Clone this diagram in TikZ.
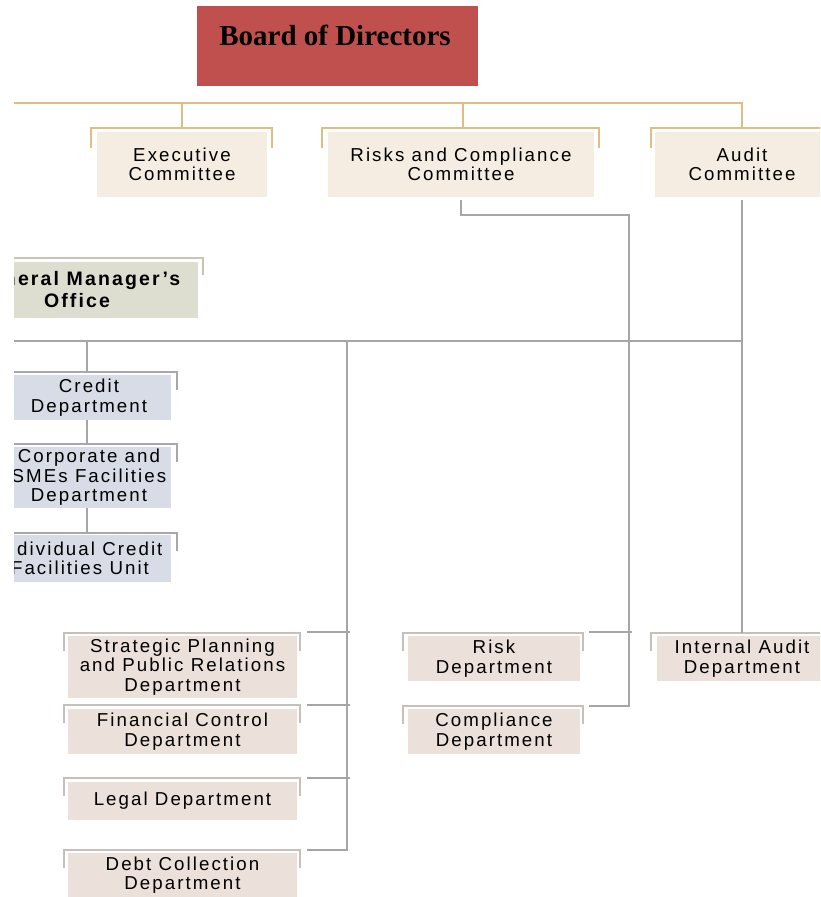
\documentclass[tikz,border=0pt]{standalone}
\usepackage{fontspec}
\setmainfont{Liberation Sans}
\newfontfamily\deptfont[LetterSpace=11]{Liberation Sans}
\newfontfamily\boardfont{Liberation Serif}
\usetikzlibrary{calc}
\definecolor{boardred}{HTML}{C0504D}
\definecolor{goldline}{HTML}{E0BE82}
\definecolor{commfill}{HTML}{F5EDE1}
\definecolor{gmfill}{HTML}{DDDED0}
\definecolor{gmbrk}{HTML}{C9C4B6}
\definecolor{credfill}{HTML}{D8DCE6}
\definecolor{credbrk}{HTML}{A8A8A8}
\definecolor{deptfill}{HTML}{EBE0DA}
\definecolor{deptbrk}{HTML}{C8C0B8}
\definecolor{connc}{HTML}{A6A6A6}
\tikzset{
  box/.style={inner sep=0pt, align=center, text=black,
    font=\deptfont\fontsize{18.7}{19.5}\selectfont},
  cbox/.style={box, fill=commfill},
  gbox/.style={box, fill=gmfill, font=\deptfont\bfseries\fontsize{19.5}{22}\selectfont},
  crbox/.style={box, fill=credfill},
  dbox/.style={box, fill=deptfill},
  goldln/.style={draw=goldline, line width=2pt},
  conn/.style={draw=connc, line width=2pt},
  brkgold/.style={draw=goldline, line width=2pt},
  brkgm/.style={draw=gmbrk, line width=2pt},
  brkcred/.style={draw=credbrk, line width=2pt},
  brkdept/.style={draw=deptbrk, line width=2pt},
}
\newcommand\brk[5]{\draw[#1] (#2,{#4+#5}) -- (#2,#4) -- (#3,#4) -- (#3,{#4+#5});}
\begin{document}
\begin{tikzpicture}[x=1pt,y=-1pt]
\useasboundingbox (0,0) rectangle (820,897);
\fill[white] (0,0) rectangle (820,897);
\begin{scope}
\clip (14,0) rectangle (820,897);

% Board
\node[fill=boardred, minimum width=281, minimum height=80, inner sep=0pt] (board) at (337.5,46) {};
\node[font=\boardfont\bfseries\fontsize{29}{30}\selectfont, anchor=base, text=black] (boardt) at (335,45) {Board of Directors};

% Committees
\brk{brkgold}{91}{272}{128}{20}
\brk{brkgold}{322}{599}{128}{20}
\brk{brkgold}{651}{840}{128}{20}
\node[cbox, minimum width=170, minimum height=65] (exec) at (182,164.5) {Executive\\Committee};
\node[cbox, minimum width=266, minimum height=65] (riskc) at (461,164.5) {Risks and Compliance\\Committee};
\node[cbox, minimum width=174, minimum height=65] (audit) at (742,164.5) {Audit\\Committee};

% gold connectors
\coordinate (gL) at (14,103);
\coordinate (gR) at (742,103);
\coordinate (gE) at (182,103);
\coordinate (gC) at (463,103);
\draw[goldln] (gL) -- (gR) -- (gR |- 0,128);
\draw[goldln] (gE) -- (gE |- 0,128);
\draw[goldln] (gC) -- (gC |- 0,128);

% General manager
\brk{brkgm}{-60}{203}{258}{17}
\node[gbox, minimum width=242, minimum height=56] (gm) at (77,290) {General Manager’s\\Office};

% main gray bus
\coordinate (bL) at (14,341);
\coordinate (bR) at (742,341);
\coordinate (bC) at (87,341);
\coordinate (bM) at (347,341);
\draw[conn] (bL) -- (bR);

% Credit group
\brk{brkcred}{0}{177}{372}{18}
\brk{brkcred}{0}{177}{444}{18}
\brk{brkcred}{0}{177}{533}{18}
\node[crbox, minimum width=164, minimum height=45] (credit) at (89,397.5) {Credit\\Department};
\node[crbox, minimum width=164, minimum height=61] (corp) at (89,477.5) {Corporate and\\SMEs Facilities\\Department};
\node[crbox, minimum width=182, minimum height=47] (indiv) at (80,558.5) {Individual Credit\\Facilities Unit};
\draw[conn] (bC) -- (bC |- 0,372);
\draw[conn] (87,420) -- (87,444);
\draw[conn] (87,508) -- (87,533);

% Bottom-left departments
\brk{brkdept}{64}{300}{633}{18}
\brk{brkdept}{64}{300}{705}{18}
\brk{brkdept}{64}{300}{778}{18}
\brk{brkdept}{64}{300}{850}{18}
\node[dbox, minimum width=229, minimum height=62] (strat) at (182.5,667) {Strategic Planning\\and Public Relations\\Department};
\node[dbox, minimum width=229, minimum height=45] (fin) at (182.5,731.5) {Financial Control\\Department};
\node[dbox, minimum width=229, minimum height=38] (legal) at (182.5,801) {Legal Department};
\node[dbox, minimum width=229, minimum height=44] (debt) at (182.5,875) {Debt Collection\\Department};
\coordinate (mEnd) at (347,850);
\draw[conn] (bM) -- (mEnd) -- (307,850);
\draw[conn] (307,632) -- (350,632);
\draw[conn] (307,705) -- (350,705);
\draw[conn] (307,778) -- (350,778);

% Risk / compliance departments
\brk{brkdept}{403}{583}{633}{18}
\brk{brkdept}{403}{583}{706}{18}
\node[dbox, minimum width=172, minimum height=45] (riskd) at (494,658.5) {Risk\\Department};
\node[dbox, minimum width=172, minimum height=45] (compd) at (494,731.5) {Compliance\\Department};
\coordinate (rv) at (629,215);
\coordinate (rvb) at (629,706);
\draw[conn] ([yshift=-3pt]riskc.south) |- (rv) -- (rvb) -- (589,706);
\draw[conn] (589,632) -- (632,632);

% Internal audit
\brk{brkdept}{651}{840}{633}{18}
\node[dbox, minimum width=170, minimum height=45] (iad) at (742,658.5) {Internal Audit\\Department};
\draw[conn] ([yshift=-3pt]audit.south) -- (742,633);

\end{scope}
\end{tikzpicture}
\end{document}
